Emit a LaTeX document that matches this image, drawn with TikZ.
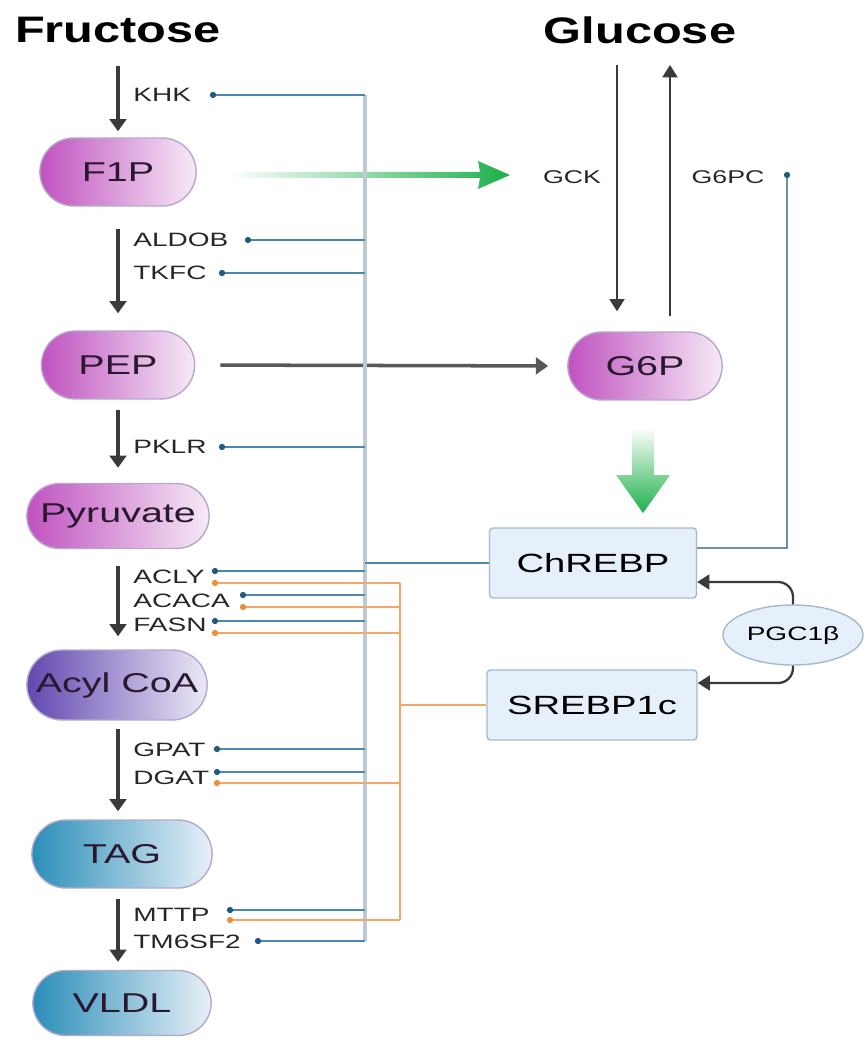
\documentclass[tikz,border=0pt]{standalone}
\usepackage{fontspec}
\usepackage{tikz}
\usetikzlibrary{shapes.misc,shapes.geometric,arrows.meta}

\newfontfamily\lblfont{Liberation Sans}[FakeStretch=1.45]
\newfontfamily\ttlfont{Liberation Sans}[FakeStretch=1.32]

\definecolor{flowgray}{HTML}{3A3A3A}
\definecolor{busgray}{HTML}{BCCBD3}
\definecolor{enzblue}{HTML}{4A88B0}
\definecolor{dotblue}{HTML}{1F5A80}
\definecolor{enzorange}{HTML}{F2A66A}
\definecolor{dotorange}{HTML}{E8913A}
\definecolor{arrowgreen}{HTML}{1DB04A}
\definecolor{pillline}{HTML}{B4A8CC}
\definecolor{pilltext}{HTML}{2A1830}
\definecolor{sugarL}{HTML}{C052C0}
\definecolor{sugarR}{HTML}{F6EAF6}
\definecolor{acylL}{HTML}{6248B0}
\definecolor{acylR}{HTML}{ECE8F6}
\definecolor{lipidL}{HTML}{2A8EB8}
\definecolor{lipidR}{HTML}{E8F0F8}
\definecolor{boxfill}{HTML}{E6F0FA}
\definecolor{boxline}{HTML}{A8B8CC}
\definecolor{linkgray}{HTML}{7090A8}

\tikzset{
    pill/.style={rounded rectangle, draw=pillline, line width=0.8pt,
        minimum height=1.36cm, text=pilltext,
        font=\lblfont\fontsize{15.5}{18}\selectfont},
    sugar/.style={pill, left color=sugarL, right color=sugarR},
    acyl/.style={pill, left color=acylL, right color=acylR},
    lipid/.style={pill, left color=lipidL, right color=lipidR},
    tfbox/.style={draw=boxline, fill=boxfill, rounded corners=2pt, line width=0.8pt,
        minimum width=4.14cm, minimum height=1.4cm,
        font=\lblfont\fontsize{15}{18}\selectfont},
    enz/.style={anchor=west, inner sep=0pt, text=black!85,
        font=\lblfont\fontsize{11}{13}\selectfont},
    flow/.style={draw=flowgray, line width=2pt, -{Triangle[length=7pt,width=9.5pt]}},
    thinflow/.style={draw=flowgray, line width=1.3pt, -{Triangle[length=7pt,width=8.5pt]}},
    enzline/.style={draw=enzblue, line width=1.1pt},
    orgline/.style={draw=enzorange, line width=0.9pt},
    busline/.style={draw=busgray, line width=2.2pt},
}

\begin{document}
\begin{tikzpicture}[x=0.02cm,y=-0.02cm]
    \useasboundingbox (0,0) rectangle (864,1040);

    % titles
    \node (fru) at (118,30) {\ttlfont\bfseries\fontsize{21}{24}\selectfont Fructose};
    \node (glc) at (640,30) {\ttlfont\bfseries\fontsize{21}{24}\selectfont Glucose};

    % fructose pathway
    \node[sugar, minimum width=3.36cm] (f1p) at (118,172) {F1P};
    \node[sugar, minimum width=3.3cm] (pep) at (118,365) {PEP};
    \node[sugar, minimum width=3.88cm, minimum height=1.3cm] (pyr) at (118,516) {Pyruvate};
    \node[acyl, minimum width=3.84cm, minimum height=1.4cm] (acyl) at (117,685) {Acyl CoA};
    \node[lipid, minimum width=3.84cm] (tag) at (122,854) {TAG};
    \node[lipid, minimum width=3.8cm, minimum height=1.3cm] (vldl) at (122,1003) {VLDL};

    \draw[flow, shorten <=0.34cm, shorten >=0.12cm] (fru.south -| f1p) -- (f1p.north);
    \draw[flow, shorten <=0.44cm, shorten >=0.34cm] (f1p.south) -- (pep.north);
    \draw[flow, shorten <=0.2cm, shorten >=0.3cm] (pep.south) -- (pyr.north);
    \draw[flow, shorten <=0.34cm, shorten >=0.26cm] (pyr.south -| pep) -- (acyl.north -| pep);
    \draw[flow, shorten <=0.16cm, shorten >=0.16cm] (acyl.south -| pep) -- (tag.north -| pep);
    \draw[flow, shorten <=0.2cm, shorten >=0.16cm] (tag.south -| pep) -- (vldl.north -| pep);

    % glucose side
    \node[sugar, minimum width=3.32cm] (g6p) at (645,366) {G6P};
    \node[tfbox] (chrebp) at (593,563) {ChREBP};
    \node[tfbox, minimum width=4.2cm] (srebp) at (592,705) {SREBP1c};
    \node[ellipse, draw=boxline, fill=boxfill, line width=0.8pt, minimum width=2.8cm,
        minimum height=1.2cm, inner sep=0pt, font=\lblfont\fontsize{11}{13}\selectfont]
        (pgc) at (793,635) {PGC1β};

    \coordinate (gin) at (617,65);
    \coordinate (gout) at (670,65);
    \draw[thinflow, shorten >=0.4cm] (gin) -- (gin |- g6p.north);
    \draw[thinflow, shorten <=0.3cm] (gout |- g6p.north) -- (gout);
    \draw[flow, draw=flowgray!85, shorten <=0.5cm, shorten >=0.38cm] (pep.east) -- (g6p.west);

    \node[enz, anchor=center, font=\lblfont\fontsize{10.5}{13}\selectfont] (gck) at (572,177) {GCK};
    \node[enz, anchor=center, font=\lblfont\fontsize{10.5}{13}\selectfont] (g6pc) at (728,177) {G6PC};
    \coordinate (g6pcb) at (787,175);
    \draw[draw=linkgray, line width=1.1pt] (g6pcb) |- ([yshift=0.3cm]chrebp.east);
    \fill[dotblue] (g6pcb) circle (1.8pt);

    % green arrows
    \shade[left color=white, middle color=arrowgreen, right color=arrowgreen]
        (230,172) -- (480,172) -- (478,161) -- (510,175) -- (478,189) -- (480,178) -- (230,178) -- cycle;
    \shade[top color=white, middle color=arrowgreen, bottom color=arrowgreen]
        (632,427) -- (654,427) -- (654,475) -- (670,475) -- (643,513) -- (616,475) -- (632,475) -- cycle;

    \draw[thinflow, rounded corners=0.3cm] (pgc.north) |- ([yshift=-0.38cm]chrebp.east);
    \draw[thinflow, rounded corners=0.3cm] (pgc.south) |- ([yshift=0.44cm]srebp.east);

    % enzymes
    \node[enz] (khk) at (133,95) {KHK};
    \node[enz] (aldob) at (133,240) {ALDOB};
    \node[enz] (tkfc) at (133,273) {TKFC};
    \node[enz] (pklr) at (133,447) {PKLR};
    \node[enz] (acly) at (133,577) {ACLY};
    \node[enz] (acaca) at (133,601) {ACACA};
    \node[enz] (fasn) at (133,625) {FASN};
    \node[enz] (gpat) at (133,750) {GPAT};
    \node[enz] (dgat) at (133,778) {DGAT};
    \node[enz] (mttp) at (133,915) {MTTP};
    \node[enz] (tm6sf2) at (133,942) {TM6SF2};

    \coordinate (khkb) at (213,95);
    \coordinate (aldobb) at (248,240);
    \coordinate (tkfcb) at (222,273);
    \coordinate (pklrb) at (222,447);
    \coordinate (aclyb) at (215,571);
    \coordinate (acacab) at (243,595);
    \coordinate (fasnb) at (215,621);
    \coordinate (gpatb) at (217,749);
    \coordinate (dgatb) at (217,772);
    \coordinate (mttpb) at (230,910);
    \coordinate (tm6sf2b) at (258,941);

    \coordinate (aclyo) at (215,583);
    \coordinate (acacao) at (243,607);
    \coordinate (fasno) at (215,633);
    \coordinate (dgato) at (217,783);
    \coordinate (mttpo) at (230,920);

    \coordinate (bus) at (365,95);
    \coordinate (obus) at (400,583);

    \draw[busline] (khkb -| bus) -- (tm6sf2b -| bus);
    \draw[orgline] (aclyo -| obus) -- (mttpo -| obus);
    \draw[enzline] (chrebp.west) -- (chrebp.west -| bus);
    \draw[orgline] (srebp.west) -- (srebp.west -| obus);

    \foreach \d in {khkb,aldobb,tkfcb,pklrb,aclyb,acacab,fasnb,gpatb,dgatb,mttpb,tm6sf2b}{
        \draw[enzline] (\d) -- (\d -| bus);
        \fill[dotblue] (\d) circle (1.8pt);
    }
    \foreach \d in {aclyo,acacao,fasno,dgato,mttpo}{
        \draw[orgline] (\d) -- (\d -| obus);
        \fill[dotorange] (\d) circle (1.8pt);
    }
\end{tikzpicture}
\end{document}
